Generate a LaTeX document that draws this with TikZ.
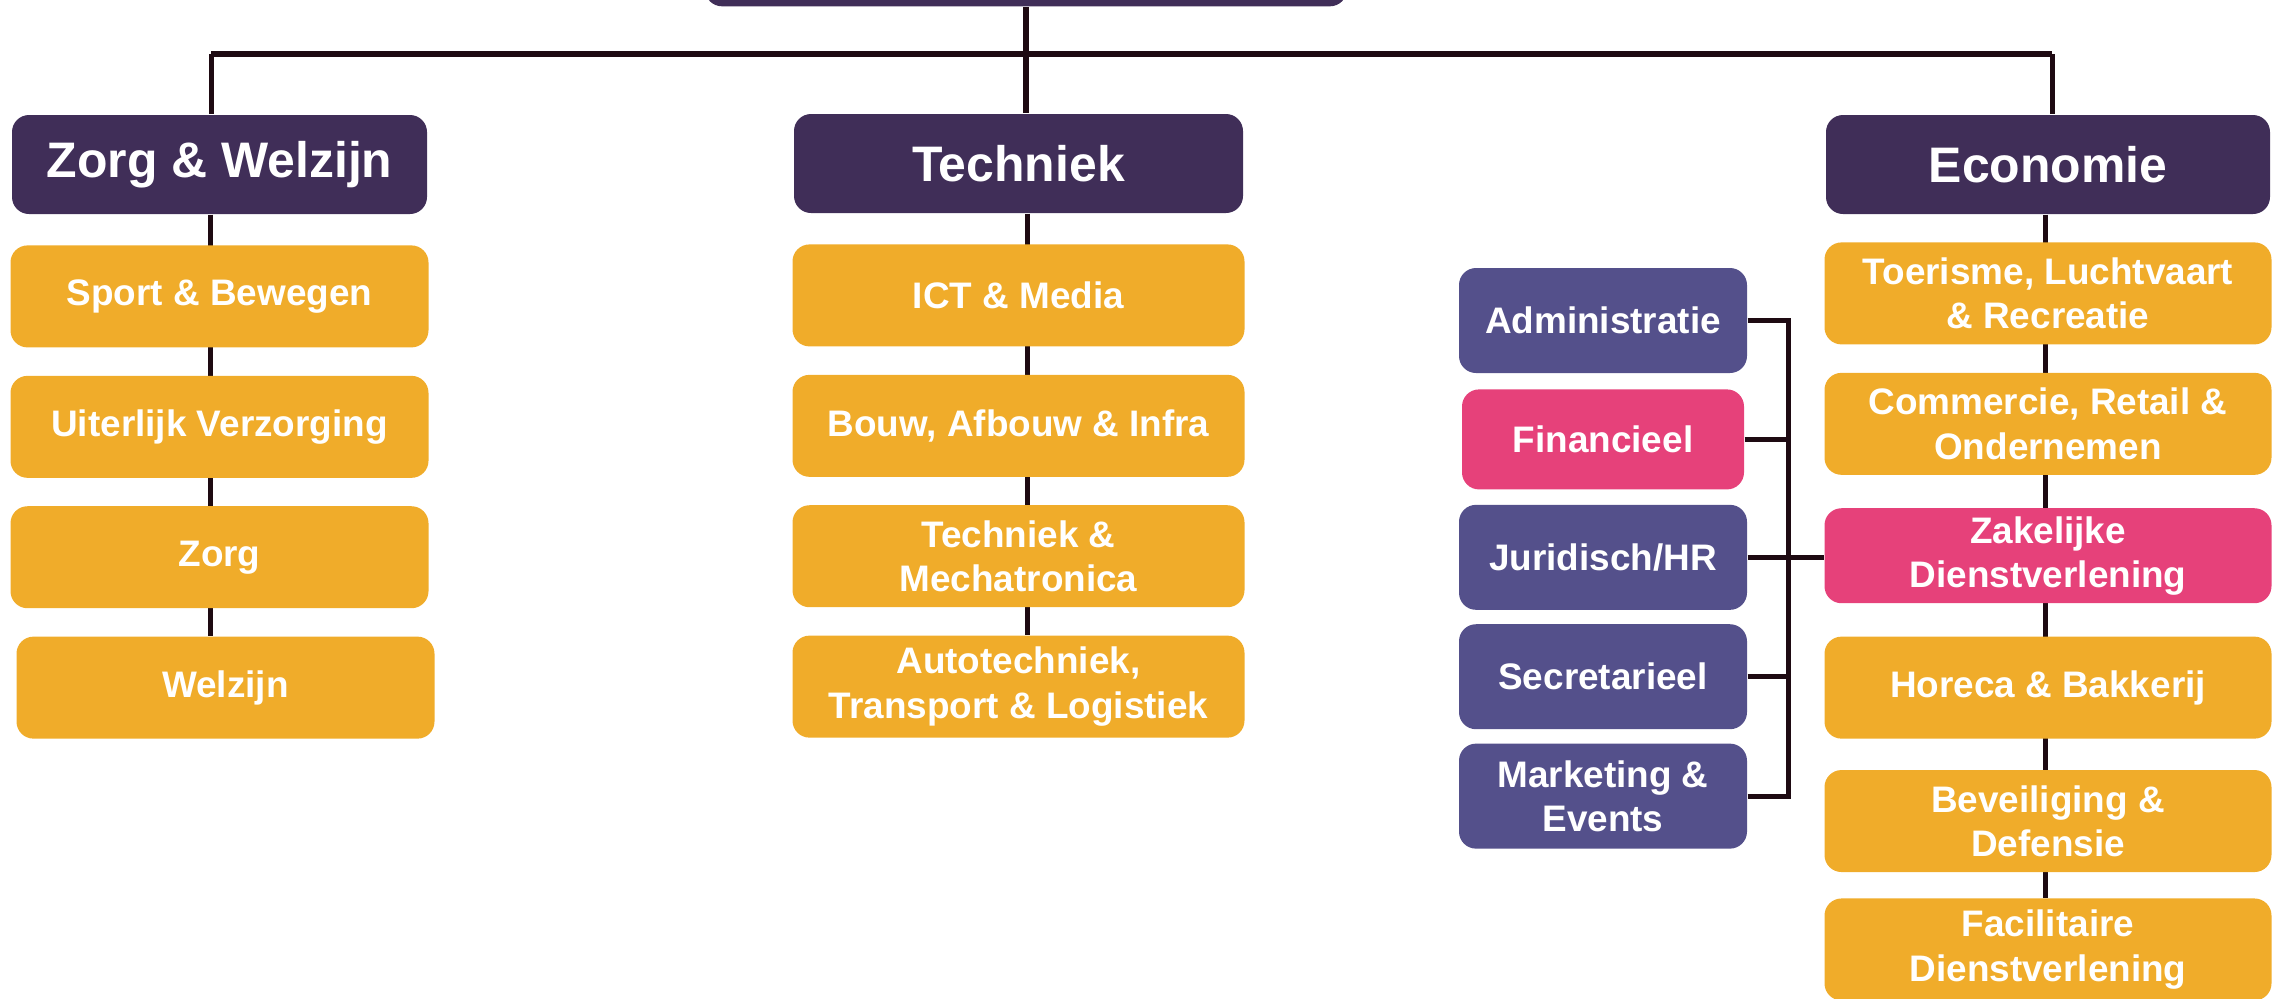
\documentclass[tikz,border=0pt]{standalone}
\usepackage{fontspec}
\setmainfont{Liberation Sans}
\usepackage{tikz}
\usetikzlibrary{calc}
\usetikzlibrary{backgrounds,positioning}
\definecolor{paars}{HTML}{402E58}
\definecolor{lila}{HTML}{54508B}
\definecolor{oranje}{HTML}{F0AC2A}
\definecolor{roze}{HTML}{E6417A}
\definecolor{lijnkleur}{HTML}{1E0A12}
\tikzset{
  kop/.style={fill=paars,text=white,rounded corners=0.17cm,inner sep=0pt,
    minimum height=0.99cm,font=\bfseries\fontsize{14.2}{17}\selectfont},
  vak/.style={fill=oranje,text=white,rounded corners=0.17cm,inner sep=0pt,
    minimum height=1.02cm,align=center,font=\bfseries\fontsize{10.5}{12.6}\selectfont},
  zij/.style={vak,fill=lila,minimum width=2.88cm,minimum height=1.05cm},
  lijn/.style={draw=lijnkleur,line width=0.05cm},
  balk/.style={draw=lijnkleur,line width=0.06cm},
}
\begin{document}
\begin{tikzpicture}[node distance=0.27cm]
        \useasboundingbox (0,0) rectangle (22.85,-9.98);
        \node[kop,anchor=south,minimum width=6.42cm,minimum height=1.2cm] (top) at (10.26,-0.07) {};
        \node[kop,minimum width=4.15cm] (zw) at (2.195,-1.645) {Zorg \& Welzijn};
        \node[kop,minimum width=4.49cm] (tech) at (10.185,-1.635) {Techniek};
        \node[kop,minimum width=4.44cm] (eco) at (20.48,-1.645) {Economie};

        \node[vak,minimum width=4.18cm,below=0.3cm of zw] (sport) {Sport \& Bewegen};
        \node[vak,minimum width=4.18cm,below=of sport] (uiterlijk) {Uiterlijk Verzorging};
        \node[vak,minimum width=4.18cm,below=of uiterlijk] (zorg) {Zorg};
        \node[vak,minimum width=4.18cm,below=of zorg,xshift=0.06cm] (welzijn) {Welzijn};

        \node[vak,minimum width=4.52cm,below=0.3cm of tech] (ict) {ICT \& Media};
        \node[vak,minimum width=4.52cm,below=of ict] (bouw) {Bouw, Afbouw \& Infra};
        \node[vak,minimum width=4.52cm,below=of bouw] (mecha) {Techniek \&\\Mechatronica};
        \node[vak,minimum width=4.52cm,below=of mecha] (auto) {Autotechniek,\\Transport \& Logistiek};

        \node[vak,minimum width=4.47cm,below=0.27cm of eco] (toer) {Toerisme, Luchtvaart\\\& Recreatie};
        \node[vak,minimum width=4.47cm,below=of toer] (comm) {Commercie, Retail \&\\Ondernemen};
        \node[vak,minimum width=4.47cm,minimum height=0.95cm,fill=roze,below=0.32cm of comm] (zak) {Zakelijke\\Dienstverlening};
        \node[vak,minimum width=4.47cm,below=0.32cm of zak] (horeca) {Horeca \& Bakkerij};
        \node[vak,minimum width=4.47cm,below=0.3cm of horeca] (bev) {Beveiliging \&\\Defensie};
        \node[vak,minimum width=4.47cm,below=0.25cm of bev] (fac) {Facilitaire\\Dienstverlening};

        \node[zij] (adm) at (16.03,-3.205) {Administratie};
        \node[zij,fill=roze,minimum width=2.82cm,minimum height=1.0cm,below=0.15cm of adm] (fin) {Financieel};
        \node[zij,below=0.14cm of fin] (jur) {Juridisch/HR};
        \node[zij,below=0.13cm of jur] (secr) {Secretarieel};
        \node[zij,below=0.13cm of secr] (mark) {Marketing \&\\Events};

        \coordinate (busL) at (2.11,-0.54);
        \coordinate (busR) at (20.52,-0.54);
        \coordinate (brk) at (17.88,-3.2);
        \draw[balk] (busL) -- (busR);
        \draw[lijn] (busL) -- (busL |- zw.north);
        \draw[lijn] (busR) -- (busR |- eco.north);
        \draw[balk] (top.south) -- (top.south |- tech.north);

        \begin{scope}[on background layer]
          \draw[lijn] ([xshift=-0.09cm]zw.south) -- ([xshift=-0.09cm]zw.south |- welzijn.north);
          \draw[lijn] ([xshift=0.085cm]tech.south) -- ([xshift=0.085cm]tech.south |- auto.north);
          \draw[lijn] ([xshift=-0.03cm]eco.south) -- ([xshift=-0.03cm]eco.south |- fac.north);
        \end{scope}

        \draw[lijn] (adm.east) -- (adm.east -| brk);
        \draw[lijn] (fin.east) -- (fin.east -| brk);
        \draw[lijn] (jur.east) -- (jur.east -| zak.west);
        \draw[lijn] (secr.east) -- (secr.east -| brk);
        \draw[lijn] (mark.east) -- (mark.east -| brk);
        \draw[lijn] ([yshift=0.025cm]adm.east -| brk) -- ([yshift=-0.025cm]mark.east -| brk);
      \end{tikzpicture}
\end{document}
